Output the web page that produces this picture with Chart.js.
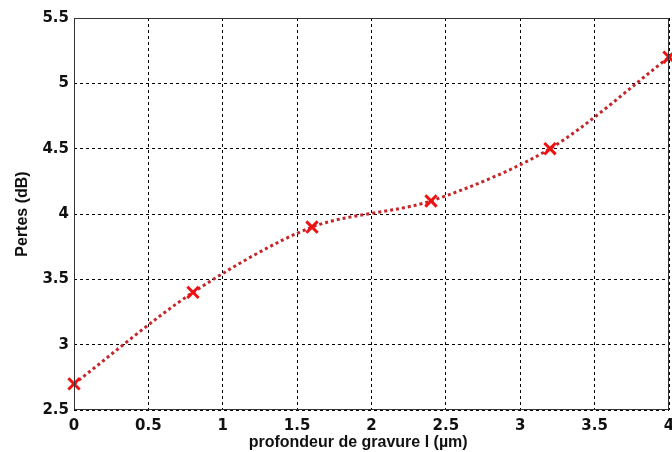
<!DOCTYPE html>
<html>
<head>
<meta charset="utf-8">
<script src="https://cdn.jsdelivr.net/npm/chart.js@4"></script>
<style>
    html, body { margin: 0; padding: 0; background: #fff; }
    #wrap { width: 672px; height: 452px; }
</style>
</head>
<body>
<div id="wrap"><canvas id="pertesChart" width="672" height="452"></canvas></div>
<script>
// data
const depth  = [0, 0.8, 1.6, 2.4, 3.2, 4];          // profondeur de gravure (µm)
const pertes = [2.7, 3.4, 3.9, 4.1, 4.5, 5.2];      // pertes (dB)
const xTicks = [0, 0.5, 1, 1.5, 2, 2.5, 3, 3.5, 4];
const yTicks = [2.5, 3, 3.5, 4, 4.5, 5, 5.5];

const tickFont  = "'DejaVu Sans', sans-serif";
const titleFont = "'Liberation Sans', Arial, sans-serif";
//-----------------------------------------------------------------------------
// solid frame round the plot area, like matlab's axes box
//-----------------------------------------------------------------------------
const frameBox = {
    id: 'frameBox',
    afterDraw(chart){
        const a = chart.chartArea;
        const ctx = chart.ctx;
        ctx.save();
        ctx.strokeStyle = '#333';
        ctx.lineWidth = 1;
        ctx.setLineDash([]);
        ctx.strokeRect(a.left + 0.5, a.top + 0.5, a.right - a.left - 1, a.bottom - a.top - 1);
        ctx.restore();
    }
};
//-----------------------------------------------------------------------------
const points = depth.map((d, i) => ({ x: d, y: pertes[i] }));
const plainNum = (v) => String(+v);   // 5 not 5.0, like matlab

new Chart(document.getElementById('pertesChart'), {
    type: 'line',
    data: {
        datasets: [{
            data: points,
            borderColor: '#c4262a',
            borderWidth: 3,
            borderDash: [3, 3],
            tension: 0.3,
            pointStyle: 'crossRot',
            pointRadius: 8,
            pointBorderWidth: 3,
            pointBorderColor: '#ee1111',
            fill: false,
            clip: false
        }]
    },
    options: {
        responsive: false,
        animation: false,
        plugins: {
            legend: { display: false },
            tooltip: { enabled: false }
        },
        layout: {
            autoPadding: false,     // markers may overhang the box edge
            padding: { left: 0, right: 3, top: 18, bottom: 0 }
        },
        scales: {
            x: {
                type: 'linear',
                min: 0,
                max: 4,
                afterBuildTicks: (scale) => { scale.ticks = xTicks.map(v => ({ value: v })); },
                afterFit: (scale) => {
                    scale.height = 42;
                    scale.paddingLeft = 0;
                    scale.paddingRight = 0;
                },
                grid: { color: '#000', lineWidth: 1, drawTicks: false },
                border: { display: false, dash: [3, 3] },
                ticks: {
                    color: '#111',
                    padding: 7,
                    maxRotation: 0,
                    callback: plainNum,
                    font: { family: tickFont, size: 15, weight: 'bold' }
                },
                title: {
                    display: true,
                    // trailing spaces pull the title a bit left of centre, as in the figure
                    text: 'profondeur de gravure l (µm)\u00a0\u00a0\u00a0\u00a0\u00a0\u00a0',
                    color: '#111',
                    padding: { top: 0, bottom: 0 },
                    font: { family: titleFont, size: 16, weight: 'bold' }
                }
            },
            y: {
                type: 'linear',
                min: 2.5,
                max: 5.5,
                afterBuildTicks: (scale) => { scale.ticks = yTicks.map(v => ({ value: v })); },
                afterFit: (scale) => {
                    scale.width = 74;
                    scale.paddingTop = 0;
                    scale.paddingBottom = 0;
                },
                grid: { color: '#000', lineWidth: 1, drawTicks: false },
                border: { display: false, dash: [3, 3] },
                ticks: {
                    color: '#111',
                    padding: 5,
                    callback: plainNum,
                    font: { family: tickFont, size: 15, weight: 'bold' }
                },
                title: {
                    display: true,
                    text: 'Pertes (dB)',
                    color: '#111',
                    padding: { top: 13, bottom: 0 },
                    font: { family: titleFont, size: 16, weight: 'bold' }
                }
            }
        }
    },
    plugins: [frameBox]
});
</script>
</body>
</html>
